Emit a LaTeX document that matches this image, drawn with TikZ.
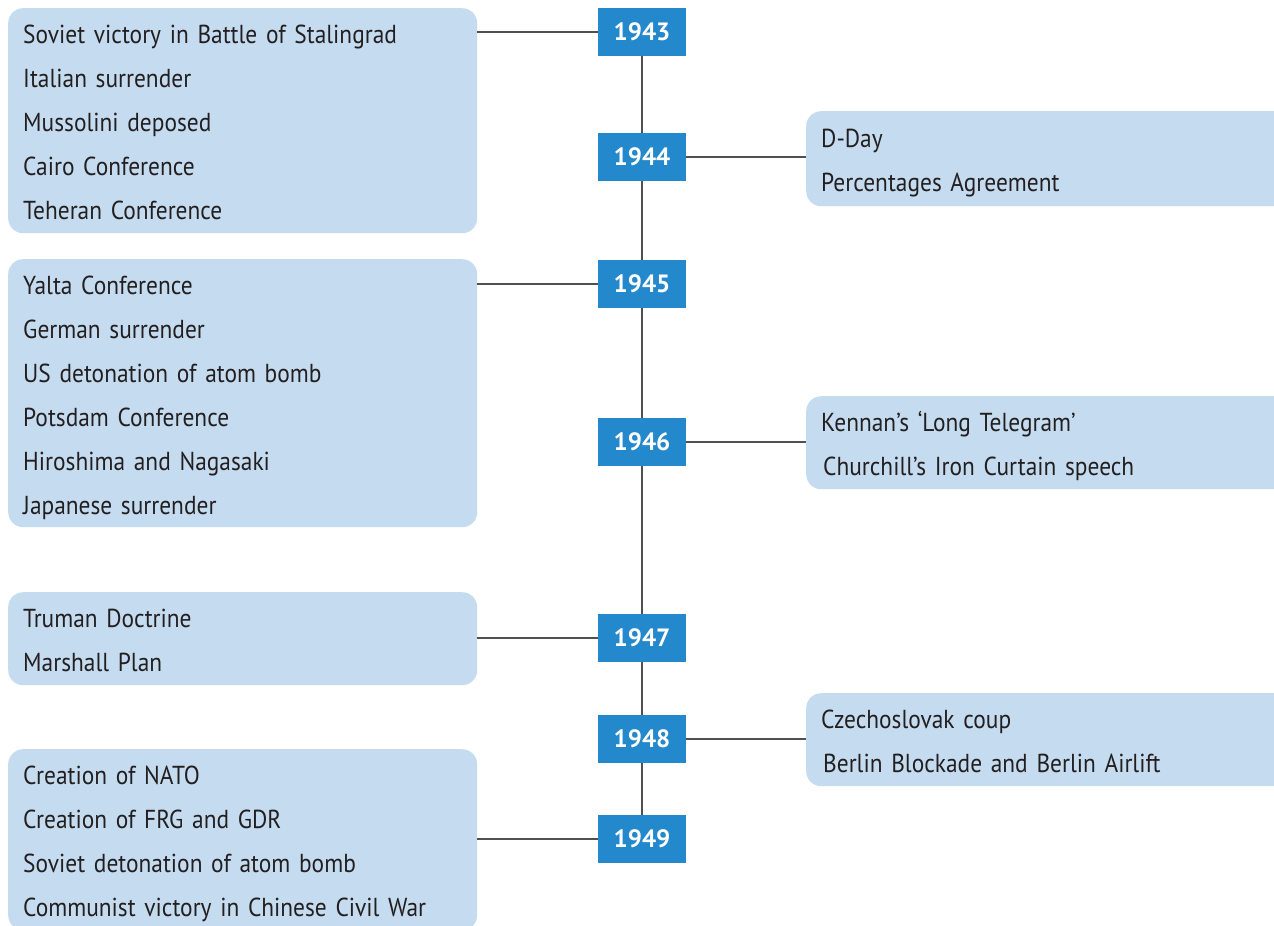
\documentclass[tikz,border=0pt]{standalone}
\usepackage{fontspec}
\setmainfont[FakeStretch=0.9]{PT Sans}
\newfontfamily\yearfont{PT Sans}
\usetikzlibrary{positioning, backgrounds}
\definecolor{evfill}{RGB}{197,220,240}
\definecolor{yearblue}{RGB}{36,136,204}
\definecolor{linegray}{RGB}{80,80,80}
\definecolor{evtext}{RGB}{35,31,32}
\tikzset{year/.style = {fill=yearblue, text=white, inner sep=0,
    font=\yearfont\fontsize{25}{25}\selectfont\bfseries, minimum width=88, minimum height=48}}
\tikzset{event/.style = {fill=evfill, rounded corners=15, text=evtext, align=left,
    anchor=north west, inner xsep=15, inner ysep=0, font=\fontsize{26}{44}\selectfont,
    execute at begin node={\rule{0pt}{29pt}}, execute at end node={\rule[-7pt]{0pt}{7pt}}}}
\tikzset{leftev/.style = {event, text width=439}}
\tikzset{rightev/.style = {event, text width=470}}
\tikzset{link/.style = {draw=linegray, line width=1.4}}

\begin{document}
\begin{tikzpicture}[x=1pt, y=-1pt]
  \useasboundingbox [fill=white] (0,0) rectangle (1274,926);

  \node [year] at (642, 32) (y1943) {1943};
  \node [year] at (642, 157) (y1944) {1944};
  \node [year] at (642, 284) (y1945) {1945};
  \node [year] at (642, 442) (y1946) {1946};
  \node [year] at (642, 638) (y1947) {1947};
  \node [year] at (642, 739) (y1948) {1948};
  \node [year] at (642, 839) (y1949) {1949};

  \node [leftev, minimum height=225] at (8, 8) (ev1943) {Soviet victory in Battle of Stalingrad\\
    Italian surrender\\ Mussolini deposed\\ Cairo Conference\\ Teheran Conference};
  \node [leftev, minimum height=268] at (8, 259) (ev1945) {Yalta Conference\\ German surrender\\
    US detonation of atom bomb\\ Potsdam Conference\\ Hiroshima and Nagasaki\\ Japanese surrender};
  \node [leftev, minimum height=93] at (8, 592) (ev1947) {Truman Doctrine\\ Marshall Plan};
  \node [leftev, minimum height=181] at (8, 749) (ev1949) {Creation of NATO\\ Creation of FRG and GDR\\
    Soviet detonation of atom bomb\\ Communist victory in Chinese Civil War};

  \node [rightev, minimum height=95] at (806, 111) (ev1944) {D-Day\\ Percentages Agreement};
  \node [rightev, minimum height=93] at (806, 396) (ev1946) {Kennan’s ‘Long Telegram’\\
    \hspace{2pt}Churchill’s Iron Curtain speech};
  \node [rightev, minimum height=93] at (806, 693) (ev1948) {Czechoslovak coup\\
    \hspace{2pt}Berlin Blockade and Berlin Airlift};

  % square off the left corners of the left boxes
  \begin{scope}[on background layer]
    \foreach \e in {1943, 1945, 1947, 1949}
      \fill [evfill] (ev\e.north west) rectangle ([xshift=40]ev\e.south west);
  \end{scope}

  \foreach \a/\b in {1943/1944, 1944/1945, 1945/1946, 1946/1947, 1947/1948, 1948/1949}
    \draw [link] (y\a) -- (y\b);

  \foreach \e in {1943, 1945, 1947, 1949}
    \draw [link] (ev\e.east |- y\e) -- (y\e.west);
  \foreach \e in {1944, 1946, 1948}
    \draw [link] (y\e.east) -- (ev\e.west |- y\e);
\end{tikzpicture}
\end{document}
